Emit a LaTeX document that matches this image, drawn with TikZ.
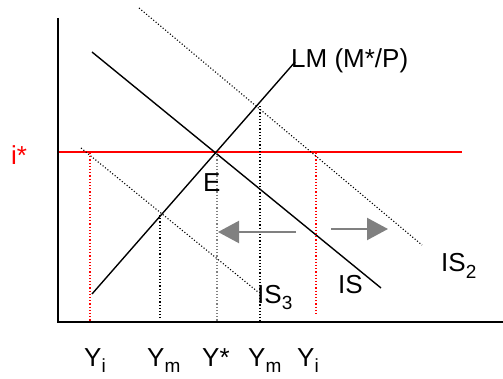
\documentclass[tikz,border=0pt]{standalone}
\usepackage{fontspec}
\setmainfont{Liberation Sans}
\usepackage{xcolor}
\usetikzlibrary{arrows.meta, positioning}
\definecolor{shiftgray}{RGB}{128,128,128}
\newcommand{\lowsub}[1]{\raisebox{-0.25em}{\fontsize{19}{19}\selectfont #1}}
\tikzstyle{curve}    = [line width=1.4pt, black]
\tikzstyle{shifted}  = [line width=1.1pt, black, dotted]
\tikzstyle{guide}    = [line width=1.2pt, dotted]
\tikzstyle{lbl}      = [inner sep=0pt, anchor=base west, font=\fontsize{26}{28}\selectfont]
\tikzstyle{arrow}    = [-{Triangle[length=21pt, width=22pt]}, line width=2.2pt, shiftgray]

\begin{document}
\begin{tikzpicture}[x=1pt, y=-1pt]
    \useasboundingbox (0,0) rectangle (503,379);
    % axes
    \coordinate (origin) at (58,322);
    \draw[line width=1.4pt] (58,18) -- (origin) -- (503,322);
    % world interest rate
    \coordinate (r0) at (59,152);
    \coordinate (r1) at (462,152);
    \draw[red, line width=1.2pt] (r0) -- (r1);
    \node (istar) [lbl, red] at (11,165) {i*};
    % curves
    \coordinate (isa) at (92,52);   \coordinate (isb) at (381,288);
    \coordinate (lma) at (92,294);  \coordinate (lmb) at (295,62);
    \coordinate (is2a) at (139,8);  \coordinate (is2b) at (422,245);
    \coordinate (is3a) at (81,148); \coordinate (is3b) at (258,292);
    \draw[curve] (isa) -- (isb);
    \draw[curve] (lma) -- (lmb);
    \draw[shifted] (is2a) -- (is2b);
    \draw[shifted] (is3a) -- (is3b);
    % guide lines
    \draw[guide, red] (90,153) -- (90,322);
    \draw[guide] (160,215) -- (160,318);
    \draw[guide, gray] (217,153) -- (217,322);
    \draw[guide] (260,106) -- (260,322);
    \draw[guide, red] (316,153) -- (316,316);
    % shift arrows
    \coordinate (la) at (296,232); \coordinate (lb) at (218,232);
    \coordinate (ra) at (331,229); \coordinate (rb) at (388,229);
    \draw[arrow] (la) -- (lb);
    \draw[arrow] (ra) -- (rb);
    % labels
    \node (lm) [lbl] at (291,68) {LM (M*/P)};
    \node (e) [lbl] at (203,192) {E};
    \node (is) [lbl] at (338,293) {IS};
    \node (is2) [lbl] at (441,272) {IS\lowsub{2}};
    \node (is3) [lbl] at (257,303) {IS\lowsub{3}};
    \node (y1) [lbl] at (84,366) {Y\lowsub{i}};
    \node (y2) [lbl] at (147,366) {Y\lowsub{m}};
    \node (y3) [lbl] at (202,366) {Y*};
    \node (y4) [lbl] at (248,366) {Y\lowsub{m}};
    \node (y5) [lbl] at (297,366) {Y\lowsub{i}};
\end{tikzpicture}
\end{document}
